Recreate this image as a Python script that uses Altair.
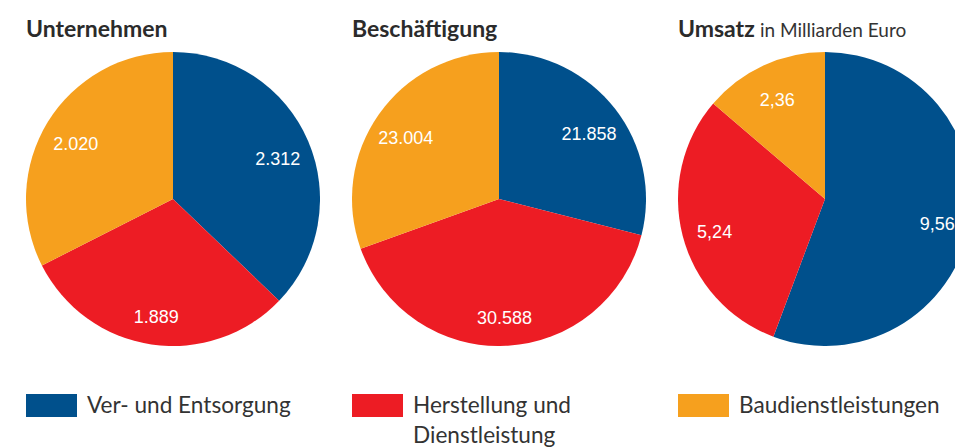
import altair as alt
import pandas as pd

categories = ["Ver- und Entsorgung", "Herstellung und Dienstleistung", "Baudienstleistungen"]
legend_labels = ["Ver- und Entsorgung", "Herstellung und\nDienstleistung", "Baudienstleistungen"]
colors = ["#00508c", "#ed1c24", "#f6a01e"]

unternehmen = [2312, 1889, 2020]
unternehmen_lbl = ["2.312", "1.889", "2.020"]
beschaeftigung = [21858, 30588, 23004]
beschaeftigung_lbl = ["21.858", "30.588", "23.004"]
umsatz = [9.56, 5.24, 2.36]
umsatz_lbl = ["9,56", "5,24", "2,36"]

R = 147
TITLE_FONT = "Lato"
LABEL_FONT = "Liberation Sans"
color_scale = alt.Scale(domain=categories, range=colors)


def pie(values, labels, title, width, suffix=None):
    df = pd.DataFrame({"cat": categories, "value": values, "label": labels,
                       "idx": list(range(len(categories)))})
    base = alt.Chart(df).encode(
        theta=alt.Theta("value:Q", stack=True),
        order=alt.Order("idx:Q"),
    )
    arc = base.mark_arc(radius=R, clip=True).encode(
        x=alt.value(R), y=alt.value(R),
        color=alt.Color("cat:N", scale=color_scale, legend=None),
    )
    txt = base.mark_text(radius=114, dy=6, fontSize=18, font=LABEL_FONT,
                         color="white").encode(
        x=alt.value(R), y=alt.value(R), text="label:N")
    tdf = pd.DataFrame({"t": [title]})
    ttl = alt.Chart(tdf).mark_text(
        align="left", baseline="alphabetic", fontSize=23, font=TITLE_FONT,
        fontWeight="bold", color="#2b2b2b").encode(
        text="t:N", x=alt.value(0), y=alt.value(-15))
    layers = [arc, txt, ttl]
    if suffix:
        sdf = pd.DataFrame({"t": [suffix]})
        layers.append(alt.Chart(sdf).mark_text(
            align="left", baseline="alphabetic", fontSize=19, font=TITLE_FONT,
            color="#333333").encode(text="t:N", x=alt.value(82), y=alt.value(-15)))
    return alt.layer(*layers).properties(width=width, height=2 * R)


p1 = pie(unternehmen, unternehmen_lbl, "Unternehmen", 2 * R)
p2 = pie(beschaeftigung, beschaeftigung_lbl, "Beschäftigung", 2 * R)
p3 = pie(umsatz, umsatz_lbl, "Umsatz", 277, suffix="in Milliarden Euro")

pies = alt.hconcat(p1, p2, p3, spacing=32)

ldf = pd.DataFrame({"cat": categories, "lbl": legend_labels})
lbase = alt.Chart(ldf).encode(
    x=alt.X("cat:N", sort=categories, axis=None,
            scale=alt.Scale(type="point", padding=0)),
)
sw = lbase.mark_point(shape="M0,-0.45H2V0.45H0Z", size=2601, filled=True, opacity=1,
                      strokeWidth=0).encode(
    y=alt.value(23.5),
    color=alt.Color("cat:N", scale=color_scale, legend=None),
)
lt = lbase.mark_text(align="left", baseline="alphabetic", dx=61, fontSize=22.6,
                     font=TITLE_FONT, color="#333333", lineBreak="\n",
                     lineHeight=30).encode(
    y=alt.value(31), text="lbl:N")
legend = alt.layer(sw, lt).properties(width=652, height=50)

chart = alt.vconcat(pies, legend, spacing=36).properties(
    padding={"left": 18, "top": 11, "right": 0, "bottom": 0}
).configure_view(stroke=None)

chart.save("out.html", embed_options={"renderer": "svg", "actions": False})
